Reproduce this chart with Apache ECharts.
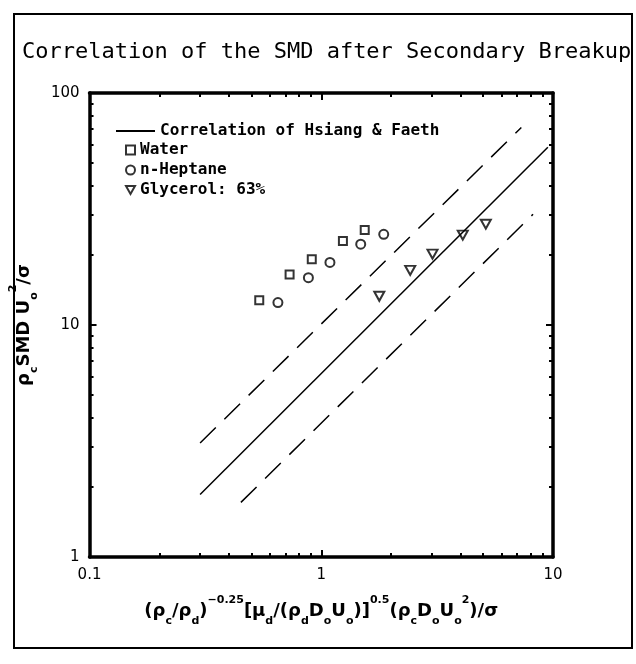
<!DOCTYPE html>
<html>
<head>
<meta charset="utf-8">
<script src="https://cdn.jsdelivr.net/npm/echarts@6/dist/echarts.min.js"></script>
<style>
  html, body { margin: 0; padding: 0; background: #fff; }
  #chart { width: 636px; height: 664px; }
</style>
</head>
<body>
<div id="chart"></div>
<script>
const waterX = [0.54, 0.73, 0.91, 1.24, 1.54]
const waterY = [12.8, 16.5, 19.2, 23.0, 25.7]
const heptaneX = [0.65, 0.88, 1.09, 1.48, 1.86]
const heptaneY = [12.5, 16.0, 18.6, 22.3, 24.6]
const glycerolX = [1.78, 2.42, 3.02, 4.08, 5.13]
const glycerolY = [13.3, 17.2, 20.2, 24.4, 27.2]

// correlation line and its scatter band, end points
const corrX = [0.3, 9.5]
const corrY = [1.86, 58.4]
const upperX = [0.3, 7.3]
const upperY = [3.1, 71]
const lowerX = [0.45, 8.2]
const lowerY = [1.72, 30]

// axis ticks
const xLabels = [0.1, 1, 10]
const xMinor = [0.2, 0.3, 0.4, 0.5, 0.6, 0.7, 0.8, 0.9, 2, 3, 4, 5, 6, 7, 8, 9]
const yLabels = [1, 10, 100]
const yMinor = [2, 3, 4, 5, 6, 7, 8, 9, 20, 30, 40, 50, 60, 70, 80, 90]

const pair = (xs, ys) => xs.map((x, i) => [x, ys[i]])

const mono = 'DejaVu Sans Mono'
const sans = 'DejaVu Sans'
const triangle = 'path://M0,0 L10,0 L5,9 Z'

const rich = {
    n: { fontFamily: sans, fontWeight: 'bold', fontSize: 18, lineHeight: 32, color: '#000' },
    b: { fontFamily: sans, fontWeight: 'bold', fontSize: 11, lineHeight: 13, verticalAlign: 'bottom', color: '#000' },
    t: { fontFamily: sans, fontWeight: 'bold', fontSize: 11, lineHeight: 13, verticalAlign: 'top', color: '#000' }
}

function logAxis(pos, min, max, opts) {
    return Object.assign({
        type: 'log',
        logBase: 10,
        position: pos,
        min: min,
        max: max,
        splitLine: { show: false },
        axisLine: { show: false },
        axisLabel: { show: false },
        axisTick: { show: false }
    }, opts)
}

const frame = { show: true, onZero: false, lineStyle: { color: '#000', width: 3.5 } }
const labelStyle = { show: true, fontFamily: sans, fontSize: 15, color: '#000' }
const major = (vals) => ({ show: true, inside: true, length: 7, customValues: vals, lineStyle: { color: '#000', width: 2 } })
const minor = (vals) => ({ show: true, inside: true, length: 4, customValues: vals, lineStyle: { color: '#000', width: 2 } })

const chart = echarts.init(document.getElementById('chart'))

chart.setOption({
    backgroundColor: '#fff',
    animation: false,
    title: {
        text: 'Correlation of the SMD after Secondary Breakup',
        left: 17,
        top: 36,
        textStyle: { fontFamily: mono, fontWeight: 'normal', fontSize: 22, color: '#000' }
    },
    graphic: [{
        type: 'rect',
        shape: { x: 14, y: 14, width: 618, height: 634 },
        style: { fill: 'none', stroke: '#000', lineWidth: 2 },
        silent: true
    }],
    legend: [{
        data: [{ name: 'Correlation of Hsiang & Faeth', icon: 'rect' }],
        left: 111,
        top: 118,
        itemWidth: 39,
        itemHeight: 2,
        textStyle: { fontFamily: mono, fontWeight: 'bold', fontSize: 16, color: '#000' }
    }, {
        data: ['Water', 'n-Heptane', 'Glycerol: 63%'],
        orient: 'vertical',
        left: 120,
        top: 137,
        itemWidth: 9,
        itemHeight: 9,
        itemGap: 4,
        textStyle: { fontFamily: mono, fontWeight: 'bold', fontSize: 16, color: '#000' }
    }],
    grid: { left: 89, right: 83, top: 93, bottom: 107 },
    xAxis: [
        logAxis('bottom', 0.1, 10, {
            axisLine: frame,
            axisLabel: Object.assign({ customValues: xLabels, margin: 11 }, labelStyle),
            axisTick: major(xLabels),
            name: '{n|(ρ}{b|c}{n|/ρ}{b|d}{n|)}{t|−0.25}{n|[μ}{b|d}{n|/(ρ}{b|d}{n|D}{b|o}{n|U}{b|o}{n|)]}{t|0.5}{n|(ρ}{b|c}{n|D}{b|o}{n|U}{b|o}{t|2}{n|)/σ}',
            nameLocation: 'middle',
            nameGap: 38,
            nameTextStyle: { rich: rich }
        }),
        logAxis('bottom', 0.1, 10, { axisTick: minor(xMinor) }),
        logAxis('top', 0.1, 10, { axisLine: frame, axisTick: major(xLabels) }),
        logAxis('top', 0.1, 10, { axisTick: minor(xMinor) })
    ],
    yAxis: [
        logAxis('left', 1, 100, {
            axisLine: frame,
            axisLabel: Object.assign({ customValues: yLabels, margin: 10 }, labelStyle),
            axisTick: major(yLabels),
            name: '{n|ρ}{b|c}{n|SMD U}{b|o}{t|2}{n|/σ}',
            nameLocation: 'middle',
            nameRotate: 90,
            nameGap: 36,
            nameTextStyle: { rich: rich }
        }),
        logAxis('left', 1, 100, { axisTick: minor(yMinor) }),
        logAxis('right', 1, 100, { axisLine: frame, axisTick: major(yLabels) }),
        logAxis('right', 1, 100, { axisTick: minor(yMinor) })
    ],
    series: [{
        name: 'Correlation of Hsiang & Faeth',
        type: 'line',
        data: pair(corrX, corrY),
        symbol: 'none',
        lineStyle: { color: '#000', width: 1.5 },
        itemStyle: { color: '#000' }
    }, {
        name: 'upper band',
        type: 'line',
        data: pair(upperX, upperY),
        symbol: 'none',
        lineStyle: { color: '#000', width: 1.5, type: [22, 12] }
    }, {
        name: 'lower band',
        type: 'line',
        data: pair(lowerX, lowerY),
        symbol: 'none',
        lineStyle: { color: '#000', width: 1.5, type: [22, 12] }
    }, {
        name: 'Water',
        type: 'scatter',
        data: pair(waterX, waterY),
        symbol: 'rect',
        symbolSize: 8,
        itemStyle: { color: '#fff', borderColor: '#000', borderWidth: 2 }
    }, {
        name: 'n-Heptane',
        type: 'scatter',
        data: pair(heptaneX, heptaneY),
        symbol: 'circle',
        symbolSize: 9,
        itemStyle: { color: '#fff', borderColor: '#000', borderWidth: 2 }
    }, {
        name: 'Glycerol: 63%',
        type: 'scatter',
        data: pair(glycerolX, glycerolY),
        symbol: triangle,
        symbolSize: [10, 9],
        itemStyle: { color: '#fff', borderColor: '#000', borderWidth: 2 }
    }]
})
</script>
</body>
</html>
